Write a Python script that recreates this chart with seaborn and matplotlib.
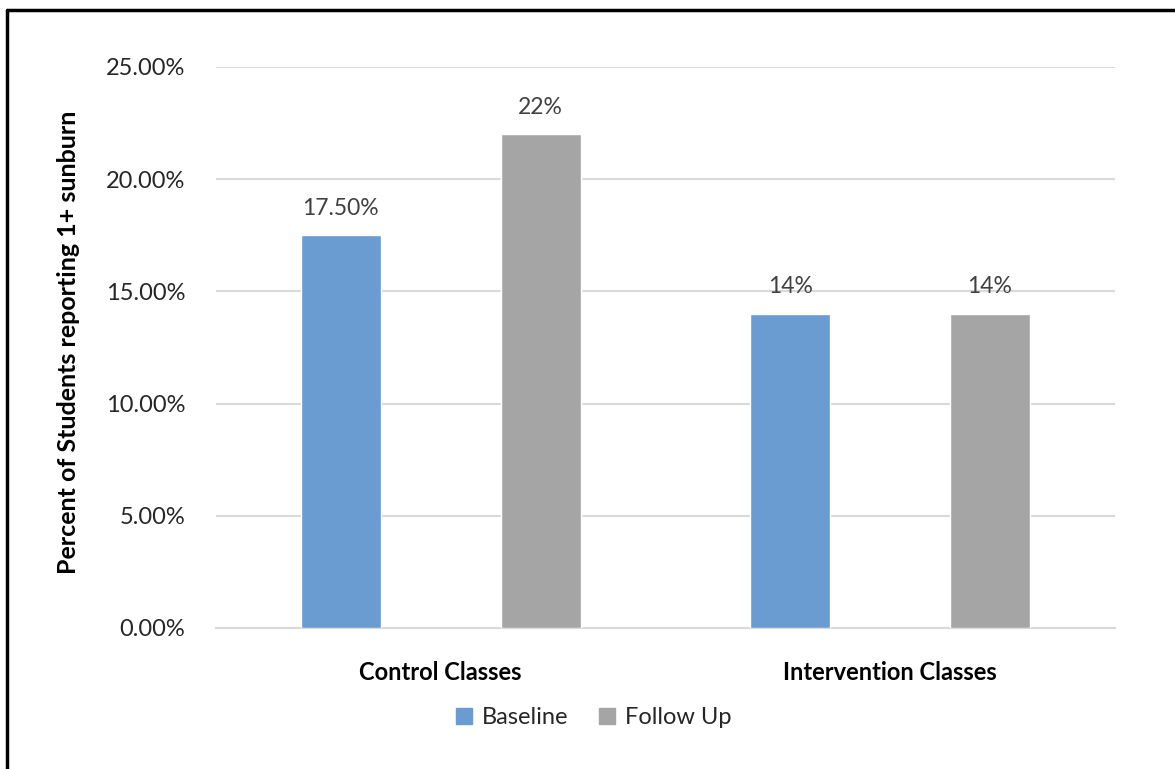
import matplotlib
matplotlib.use("Agg")
import matplotlib.pyplot as plt
import matplotlib.lines as mlines
import matplotlib.patches as patches
import pandas as pd
import seaborn as sb

# data
groups = ["Control Classes", "Intervention Classes"]
phases = ["Baseline", "Follow Up"]
baseline = [0.175, 0.14]
follow_up = [0.22, 0.14]
value_labels = ["17.50%", "14%", "22%", "14%"]  # order: baseline bars, then follow-up bars
y_ticks = [0.0, 0.05, 0.10, 0.15, 0.20, 0.25]

df = pd.DataFrame({
    "group": groups * 2,
    "phase": [phases[0]] * 2 + [phases[1]] * 2,
    "value": baseline + follow_up,
})

sb.set_style("white")
plt.rcParams["font.family"] = ["Lato", "DejaVu Sans"]

fig = plt.figure(figsize=(11.75, 7.69), dpi=100)
ax = fig.add_axes([0.1838, 0.1834, 0.765, 0.7295])

sb.barplot(data=df, x="group", y="value", hue="phase", hue_order=phases,
           palette=["#6a9bd1", "#a5a5a5"], width=0.889, gap=0.6,
           saturation=1, legend=False, ax=ax, zorder=3)

ax.set_xlim(-0.5, 1.5)
ax.set_ylim(0, 0.25)
ax.set_yticks(y_ticks)
ax.set_yticklabels([f"{t * 100:.2f}%" for t in y_ticks], fontsize=17, color="#262626")
ax.yaxis.grid(True, color="#d9d9d9", linewidth=1.5, zorder=0)
ax.tick_params(axis="y", length=0, pad=22)
ax.tick_params(axis="x", length=0, pad=24)
for lab in ax.get_xticklabels():
    lab.set_fontsize(17)
    lab.set_fontweight("bold")
    lab.set_color("black")
for s in ["top", "right", "left"]:
    ax.spines[s].set_visible(False)
ax.spines["bottom"].set_color("#d9d9d9")
ax.spines["bottom"].set_linewidth(1.5)

ax.set_xlabel("")
ax.set_ylabel("Percent of Students reporting 1+ sunburn", fontsize=18,
              fontweight="bold", color="black")
ax.yaxis.set_label_coords(-0.151, 0.51)

for bar, txt in zip(ax.patches, value_labels):
    ax.annotate(txt, (bar.get_x() + bar.get_width() / 2, bar.get_height()),
                xytext=(0, 12), textcoords="offset points",
                ha="center", va="bottom", fontsize=16.5, color="#404040")

handles = [patches.Patch(color=c) for c in ["#6a9bd1", "#a5a5a5"]]
fig.legend(handles, phases, loc="center", bbox_to_anchor=(594 / 1175, 1 - 718 / 769),
           ncol=2, frameon=False, fontsize=17, handlelength=0.65, handleheight=0.65,
           columnspacing=1.3, handletextpad=0.45)

# figure frame: top and left edges only, as in the reference crop
fig.add_artist(mlines.Line2D([7 / 1175, 1.0], [1 - 10 / 769, 1 - 10 / 769],
                             transform=fig.transFigure, color="black", linewidth=2.5))
fig.add_artist(mlines.Line2D([7 / 1175, 7 / 1175], [0, 1 - 10 / 769],
                             transform=fig.transFigure, color="black", linewidth=2.5))

fig.savefig("out.png", dpi=100)
